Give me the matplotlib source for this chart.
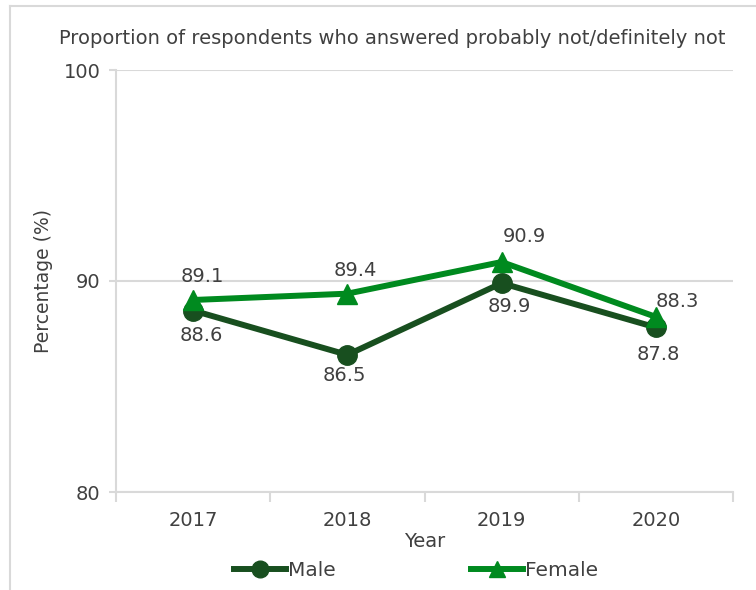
import matplotlib
matplotlib.use("Agg")
import matplotlib.pyplot as plt
from matplotlib.lines import Line2D

years = ["2017", "2018", "2019", "2020"]
male = [88.6, 86.5, 89.9, 87.8]
female = [89.1, 89.4, 90.9, 88.3]
y_ticks = [80, 90, 100]

plt.rcParams["font.family"] = ["DejaVu Sans"]
TEXT = "#404040"
GRID = "#d9d9d9"
MALE_C = "#184f1f"
FEMALE_C = "#008a1f"

fig = plt.figure(figsize=(7.56, 5.9), dpi=100)
W, H = 756, 590
ax = fig.add_axes([116 / W, 1 - 492 / H, (733 - 116) / W, (492 - 70) / H])

# chart-area frame (top and left edges)
fig.add_artist(Line2D([10 / W, 1.0], [1 - 6 / H, 1 - 6 / H], transform=fig.transFigure,
                      color=GRID, lw=1.5))
fig.add_artist(Line2D([10 / W, 10 / W], [0.0, 1 - 6 / H], transform=fig.transFigure,
                      color=GRID, lw=1.5))

x = list(range(len(years)))
ax.plot(x, male, color=MALE_C, lw=4.3, marker="o", ms=14, zorder=3, label="Male")
ax.plot(x, female, color=FEMALE_C, lw=4.3, marker="^", ms=14, zorder=4, label="Female")

ax.set_xlim(-0.5, len(years) - 0.5)
ax.set_ylim(80, 100)
ax.set_yticks(y_ticks)
ax.set_xticks(x)
ax.set_xticklabels(years)
ax.set_xticks([i - 0.5 for i in range(len(years) + 1)], minor=True)
ax.tick_params(axis="x", which="major", length=0, pad=14, labelsize=14, labelcolor=TEXT)
ax.tick_params(axis="x", which="minor", length=7, width=1.5, color=GRID)
ax.tick_params(axis="y", length=5, width=1.5, color=GRID, pad=6, labelsize=14, labelcolor=TEXT)

for s in ["top", "right"]:
    ax.spines[s].set_visible(False)
for s in ["left", "bottom"]:
    ax.spines[s].set_color(GRID)
    ax.spines[s].set_linewidth(1.5)
ax.yaxis.grid(True, color=GRID, lw=1.5)
ax.set_axisbelow(True)

# value labels
male_off = [(8, -25), (-3, -21), (8, -23), (2, -27)]
female_off = [(9, 23), (8, 23), (23, 26), (21, 15)]
for i, v in enumerate(male):
    ax.annotate(f"{v:.1f}", (x[i], v), xytext=male_off[i], textcoords="offset pixels",
                ha="center", va="center", fontsize=14, color=TEXT, zorder=5)
for i, v in enumerate(female):
    ax.annotate(f"{v:.1f}", (x[i], v), xytext=female_off[i], textcoords="offset pixels",
                ha="center", va="center", fontsize=14, color=TEXT, zorder=5)

ax.set_xlabel("Year", fontsize=14, color=TEXT, labelpad=1)
ax.set_ylabel("Percentage (%)", fontsize=13.5, color=TEXT, labelpad=8)

fig.text(392 / W, 1 - 38 / H, "Proportion of respondents who answered probably not/definitely not",
         ha="center", va="center", fontsize=14, color=TEXT)

handles = [Line2D([], [], color=MALE_C, lw=4.3, marker="o", ms=12),
           Line2D([], [], color=FEMALE_C, lw=4.3, marker="^", ms=12)]
fig.legend(handles, ["Male", "Female"], loc="center", bbox_to_anchor=(416 / W, 1 - 571 / H),
           ncol=2, frameon=False, fontsize=14.5, labelcolor=TEXT, handlelength=2.55,
           handletextpad=0.1, columnspacing=6.75)

fig.savefig("out.png", dpi=100)
